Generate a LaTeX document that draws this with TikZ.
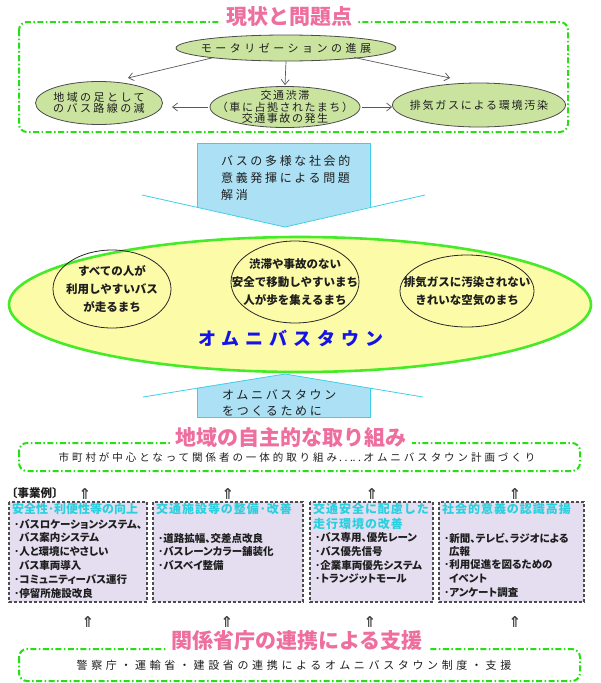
\documentclass[tikz,border=0pt]{standalone}
\usepackage{fontspec}
\setmainfont{Noto Sans CJK JP}
\newfontfamily\dejavu{DejaVu Sans}
\usetikzlibrary{arrows.meta,shapes.geometric}
\definecolor{pinkt}{RGB}{238,110,158}
\definecolor{gdash}{RGB}{40,222,20}
\definecolor{elg}{RGB}{202,228,160}
\definecolor{arrb}{RGB}{172,224,244}
\definecolor{arrl}{RGB}{60,208,232}
\definecolor{bigy}{RGB}{252,252,168}
\definecolor{bigg}{RGB}{70,234,40}
\definecolor{boxf}{RGB}{228,222,240}
\definecolor{cyant}{RGB}{40,208,224}
\definecolor{bluet}{RGB}{20,20,230}
\definecolor{txt}{RGB}{30,30,30}
\newcommand\mydots{\makebox[13.4pt][l]{\hspace{2pt}.\hspace{2.6pt}.\hspace{2.6pt}.}}
\tikzset{
  frame/.style={draw=gdash, line width=2pt, dash pattern=on 6pt off 2.5pt on 1.5pt off 2.5pt, rounded corners=8pt},
  sectitle/.style={text=pinkt, font=\fontsize{21}{21}\selectfont\bfseries, fill=white, inner xsep=5pt, inner ysep=1pt},
  pell/.style={ellipse, draw=black!70, fill=elg, line width=0.8pt, inner sep=0pt},
  ptxt/.style={inner sep=0pt, align=center, text=txt,
    font=\fontsize{11}{11.5}\selectfont\addfontfeature{LetterSpace=22}},
  parr/.style={-{Straight Barb[length=5pt,width=8pt]}, draw=black!65, line width=0.7pt},
  yell/.style={ellipse, draw=black!85, line width=0.8pt, inner sep=0pt},
  ytxt/.style={align=center, text=txt, inner sep=0pt, font=\fontsize{11.5}{18}\selectfont\bfseries},
  arrtxt/.style={anchor=west, inner sep=0pt, text=txt, font=\fontsize{12}{12}\selectfont\addfontfeature{LetterSpace=22}},
  exbox/.style={draw=black!70, fill=boxf, line width=1.1pt, dash pattern=on 3pt off 2pt},
  bhead/.style={anchor=west, inner sep=0pt, text=cyant, font=\fontsize{12}{12}\selectfont\bfseries\addfontfeature{LetterSpace=8}},
  bitem/.style={anchor=west, inner sep=0pt, text=txt, font=\fontsize{10.5}{10.5}\selectfont\bfseries\addfontfeature{RawFeature=+palt}},
  uparr/.style={inner sep=0pt, font=\dejavu\bfseries\fontsize{15}{15}\selectfont, text=black!75},
  frtxt/.style={inner sep=0pt, text=txt, font=\fontsize{11}{11}\selectfont\addfontfeature{LetterSpace=33}}
}
\begin{document}
\begin{tikzpicture}[x=1pt,y=-1pt]
\useasboundingbox (0,0) rectangle (600,683);
\fill[white] (0,0) rectangle (600,683);

% ---------- top section ----------
\draw[frame] (19,22) rectangle (568,132);
\node[sectitle] (t1) at (289,17) {現状と問題点};
\node[pell, minimum width=220pt, minimum height=26pt] (mot) at (286,48) {};
\node[pell, minimum width=127pt, minimum height=43pt] (bus) at (99,103) {};
\node[pell, minimum width=150pt, minimum height=41pt] (jam) at (285,107) {};
\node[pell, minimum width=173pt, minimum height=44pt] (gas) at (479,105) {};
\node[ptxt, font=\fontsize{11}{11}\selectfont\addfontfeature{LetterSpace=32}] (motT) at (mot) {モータリゼーションの進展};
\node[ptxt] (busT) at (bus) {地域の足として\\のバス路線の減};
\node[ptxt, font=\fontsize{11}{11.5}\selectfont\addfontfeature{LetterSpace=14}] (jamT) at (jam) {交通渋滞\\（車に占拠されたまち）\\交通事故の発生};
\node[ptxt, font=\fontsize{11}{11.5}\selectfont\addfontfeature{LetterSpace=16}] (gasT) at (gas) {排気ガスによる環境汚染};
\coordinate (e1) at (128,78);
\coordinate (e3) at (450,78);
\coordinate (e4) at (172,107);
\draw[parr] ([xshift=6pt]mot.south west) -- (e1);
\draw[parr] (mot.south) -- ([yshift=1pt]jam.north);
\draw[parr] ([xshift=-10pt]mot.south east) -- (e3);
\draw[parr] ([xshift=-2pt]jam.west) -- (e4);
\draw[parr] ([xshift=2pt]jam.east) -- (jam.east -| gas.west);

% ---------- down arrow ----------
\fill[arrb] (197,143) -- (370,143) -- (370,207) -- (285,227) -- (197,207) -- cycle;
\draw[arrl, line width=0.8pt] (197,207) -- (197,143) -- (370,143) -- (370,207);
\draw[arrl, line width=0.8pt] (142,195) -- (285,227) -- (425,195);
\node[arrtxt] (d1) at (221,161) {バスの多様な社会的};
\node[arrtxt] (d2) at (221,177.5) {意義発揮による問題};
\node[arrtxt] (d3) at (221,195) {解消};

% ---------- up arrow (behind ellipse) ----------
\fill[arrb] (197,417) -- (197,388) -- (285,374) -- (370,388) -- (370,417) -- cycle;
\draw[arrl, line width=0.8pt] (197,388) -- (197,417) -- (370,417) -- (370,388);
\draw[arrl, line width=0.8pt] (143,397) -- (285,374) -- (423,397);
\node[arrtxt] (u1) at (222,395) {オムニバスタウン};
\node[arrtxt] (u2) at (222,411) {をつくるために};

% ---------- big ellipse ----------
\node[ellipse, draw=bigg, fill=bigy, line width=2.6pt, minimum width=582pt, minimum height=135pt, inner sep=0pt] (omni) at (300,304.5) {};
\node[yell, minimum width=118pt, minimum height=78pt] (c1) at (112,289) {};
\node[yell, minimum width=128pt, minimum height=82pt] (c2) at (295,282) {};
\node[yell, minimum width=134pt, minimum height=72pt] (c3) at (467,291) {};
\node[ytxt] (c1t) at (c1) {すべての人が\\利用しやすいバス\\が走るまち};
\node[ytxt] (c2t) at (c2) {渋滞や事故のない\\安全で移動しやすいまち\\人が歩を集えるまち};
\node[ytxt] (c3t) at (c3) {排気ガスに汚染されない\\きれいな空気のまち};
\node[inner sep=0pt, text=bluet, font=\fontsize{18}{18}\selectfont\bfseries\addfontfeature{LetterSpace=33}] (omt) at (291,338) {オムニバスタウン};

% ---------- local initiative ----------
\draw[frame] (19,443) rectangle (580,471);
\node[sectitle] (t2) at (291,437) {地域の自主的な取り組み};
\node[frtxt, font=\fontsize{10.5}{10.5}\selectfont\addfontfeature{LetterSpace=28}] (l1) at (297,457) {市町村が中心となって関係者の一体的取り組み\mydots\mydots オムニバスタウン計画づくり};

\node[anchor=west, inner sep=0pt, text=txt, font=\fontsize{11.5}{11.5}\selectfont\bfseries] (jg) at (6,493) {〔事業例〕};
\node[uparr] (ua1) at (85,494) {⇑};
\node[uparr] (ua2) at (228,494) {⇑};
\node[uparr] (ua3) at (372,494) {⇑};
\node[uparr] (ua4) at (515,494) {⇑};

% ---------- example boxes ----------
\draw[exbox] (9,502) rectangle (147,602);
\draw[exbox] (153,502) rectangle (303,602);
\draw[exbox] (310,502) rectangle (433,602);
\draw[exbox] (439,502) rectangle (584,602);

\node[bhead, font=\fontsize{12}{12}\selectfont\bfseries] (h1) at (12,509) {安全性･利便性等の向上};
\node[bitem] (i11) at (14,524) {･バスロケーションシステム、};
\node[bitem] (i12) at (19,537.5) {バス案内システム};
\node[bitem] (i13) at (14,552) {･人と環境にやさしい};
\node[bitem] (i14) at (19,565.5) {バス車両導入};
\node[bitem] (i15) at (14,579.5) {･コミュニティーバス運行};
\node[bitem] (i16) at (14,593.5) {･停留所施設改良};

\node[bhead] (h2) at (156,509) {交通施設等の整備･改善};
\node[bitem] (i21) at (158,539) {･道路拡幅、交差点改良};
\node[bitem] (i22) at (158,552) {･バスレーンカラー舗装化};
\node[bitem] (i23) at (158,565.5) {･バスベイ整備};

\node[bhead] (h3) at (313,509) {交通安全に配慮した};
\node[bhead] (h3b) at (313,524) {走行環境の改善};
\node[bitem] (i31) at (315,538) {･バス専用、優先レーン};
\node[bitem] (i32) at (315,551.5) {･バス優先信号};
\node[bitem] (i33) at (315,565) {･企業車両優先システム};
\node[bitem] (i34) at (315,578.5) {･トランジットモール};

\node[bhead] (h4) at (442,509) {社会的意義の認識高揚};
\node[bitem] (i41) at (444,538) {･新聞、テレビ、ラジオによる};
\node[bitem] (i42) at (449,551.5) {広報};
\node[bitem] (i43) at (444,565) {･利用促進を図るための};
\node[bitem] (i44) at (449,578.5) {イベント};
\node[bitem] (i45) at (444,593) {･アンケート調査};

% ---------- bottom ----------
\node[uparr] (ba1) at (88,622) {⇑};
\node[uparr] (ba2) at (227,622) {⇑};
\node[uparr] (ba3) at (370,622) {⇑};
\node[uparr] (ba4) at (515,622) {⇑};
\draw[frame] (19,649) rectangle (580,681);
\node[sectitle] (t3) at (297,641) {関係省庁の連携による支援};
\node[frtxt] (g1) at (294,665) {警察庁・運輸省・建設省の連携によるオムニバスタウン制度・支援};
\end{tikzpicture}
\end{document}
